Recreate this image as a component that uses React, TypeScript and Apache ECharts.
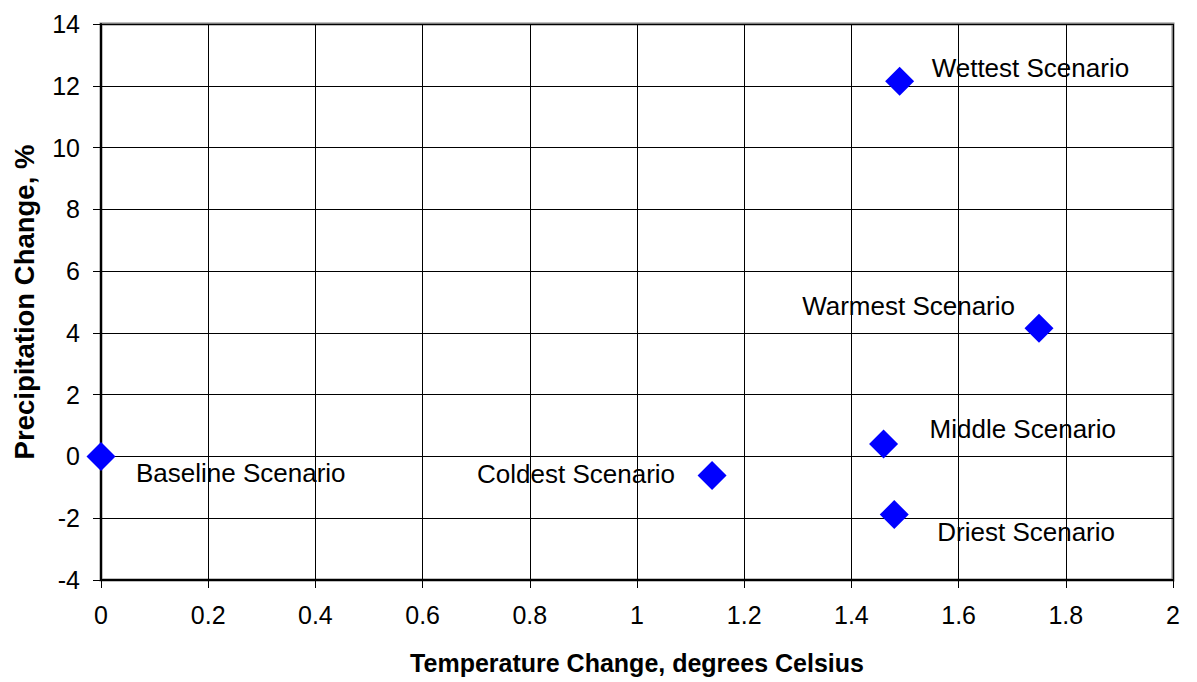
import React, { useEffect, useRef } from "react";
import * as echarts from "echarts";

// ---- data ----
const scenarios = [
  "Baseline Scenario",
  "Coldest Scenario",
  "Middle Scenario",
  "Driest Scenario",
  "Wettest Scenario",
  "Warmest Scenario",
];
const temperatureChange = [0, 1.14, 1.46, 1.48, 1.49, 1.75];
const precipitationChange = [0, -0.62, 0.4, -1.88, 12.15, 4.15];

const xTitle = "Temperature Change, degrees Celsius";
const yTitle = "Precipitation Change, %";

// ---- label placement (styling only) ----
const labelLayout: { align: "left" | "right"; offset: [number, number] }[] = [
  { align: "left", offset: [35, 17] },
  { align: "right", offset: [-37, -2] },
  { align: "left", offset: [46, -15] },
  { align: "left", offset: [43, 17] },
  { align: "left", offset: [32, -13] },
  { align: "right", offset: [-24, -22] },
];

const FONT = "'Liberation Sans', Arial, sans-serif";

export default function App() {
  const ref = useRef<HTMLDivElement>(null);

  useEffect(() => {
    if (!ref.current) return;
    const chart = echarts.init(ref.current, undefined, { renderer: "svg" });

    const data = scenarios.map((name, i) => ({
      name,
      value: [temperatureChange[i], precipitationChange[i]],
      label: {
        show: true,
        position: "inside",
        align: labelLayout[i].align,
        verticalAlign: "middle",
        offset: labelLayout[i].offset,
        formatter: name,
        color: "#000",
        fontSize: 26,
        fontFamily: FONT,
      },
    }));

    chart.setOption({
      animation: false,
      backgroundColor: "#fff",
      grid: {
        left: 101,
        right: 24,
        top: 24,
        bottom: 102,
        show: true,
        borderColor: "#808080",
        borderWidth: 3,
        backgroundColor: "#fff",
      },
      xAxis: {
        type: "value",
        min: 0,
        max: 2,
        interval: 0.2,
        name: xTitle,
        nameLocation: "middle",
        nameGap: 70,
        nameTextStyle: {
          fontSize: 25,
          fontWeight: "bold",
          fontFamily: FONT,
          color: "#000",
        },
        axisLine: { show: true, onZero: false, lineStyle: { color: "#000", width: 2 } },
        axisTick: { show: true, length: 8, lineStyle: { color: "#000", width: 1 } },
        axisLabel: {
          margin: 22,
          fontSize: 25,
          fontFamily: FONT,
          color: "#000",
        },
        splitLine: { show: true, lineStyle: { color: "#000", width: 1 } },
      },
      yAxis: {
        type: "value",
        min: -4,
        max: 14,
        interval: 2,
        name: yTitle,
        nameLocation: "middle",
        nameGap: 63,
        nameTextStyle: {
          fontSize: 27.5,
          fontWeight: "bold",
          fontFamily: FONT,
          color: "#000",
        },
        axisLine: { show: true, onZero: false, lineStyle: { color: "#000", width: 2 } },
        axisTick: { show: true, length: 8, lineStyle: { color: "#000", width: 1 } },
        axisLabel: {
          margin: 21,
          fontSize: 25,
          fontFamily: FONT,
          color: "#000",
        },
        splitLine: { show: true, lineStyle: { color: "#000", width: 1 } },
      },
      series: [
        {
          type: "scatter",
          symbol: "diamond",
          symbolSize: 29,
          itemStyle: { color: "#0000FF", opacity: 1 },
          emphasis: { disabled: true },
          data,
          z: 5,
        },
      ],
    });

    return () => chart.dispose();
  }, []);

  return (
    <div
      ref={ref}
      style={{ position: "fixed", left: 0, top: 0, width: 1197, height: 682 }}
    />
  );
}
